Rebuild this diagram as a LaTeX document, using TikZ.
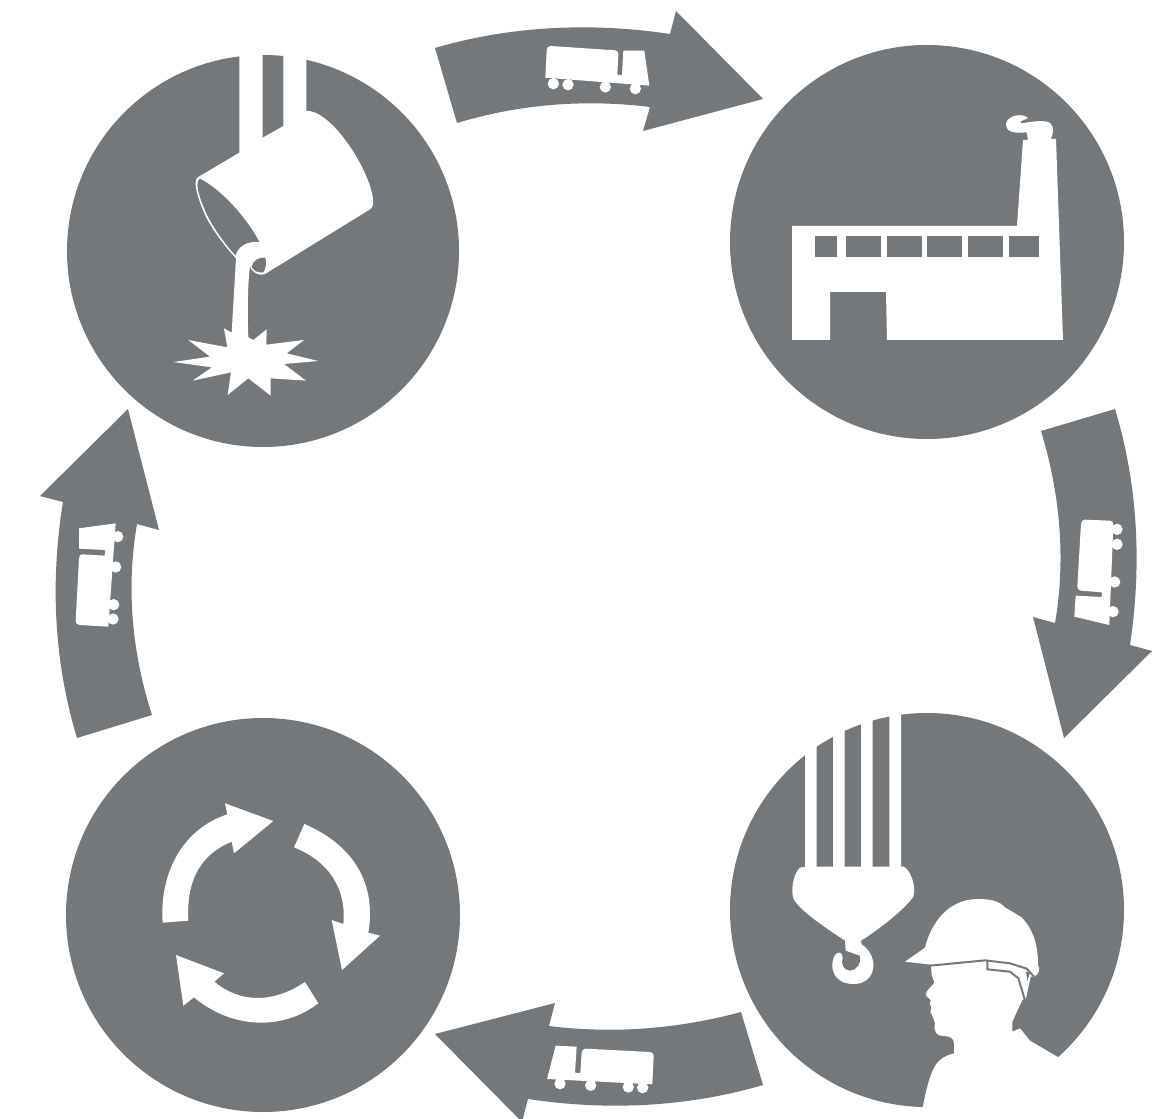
\documentclass[tikz,border=0pt]{standalone}
\definecolor{slate}{HTML}{75787B}
\tikzset{
  disc/.style={fill=slate,draw=none},
  flow/.style={fill=slate,draw=none},
  cut/.style={fill=white,draw=none},
  hole/.style={fill=slate,draw=none},
  strap/.style={draw=slate,line width=1.5pt,line join=miter},
  zoomed/.style={x=0.25pt,y=-0.25pt}
}
\newcommand{\wheels}[8]{%
  \fill[white] (#1,#2) circle[radius=17*0.25pt] (#3,#4) circle[radius=17*0.25pt] (#5,#6) circle[radius=17*0.25pt] (#7,#8) circle[radius=17*0.25pt];}
\begin{document}
\begin{tikzpicture}[x=0.75pt,y=-0.75pt]
\useasboundingbox (0,0) rectangle (1163,1119);
% discs
\fill[disc] (263,251) circle[radius=147pt];
\fill[disc] (927,242) circle[radius=147.75pt];
\fill[disc] (263,915) circle[radius=147.75pt];
\fill[disc] (927,910) circle[radius=147.75pt];
% flow arrows
\fill[flow] (435,48) .. controls (510,26) and (590,22) .. (670,34) -- (676,11) -- (763,99) -- (643,131) -- (650,107) .. controls (585,99) and (520,104) .. (457,123) -- cycle;
\fill[flow] (1115,409) -- (1041,431) .. controls (1062,500) and (1065,565) .. (1055,623) -- (1033,617) -- (1064,738) -- (1152,651) -- (1130,645) .. controls (1142,565) and (1138,485) .. (1115,409) -- cycle;
\fill[flow] (763,1085) .. controls (688,1107) and (608,1111) .. (528,1099) -- (522,1122) -- (435,1034) -- (555,1003) -- (549,1026) .. controls (613,1034) and (678,1029) .. (741,1012) -- cycle;
\fill[flow] (77,738) -- (152,715) .. controls (130,647) and (127,582) .. (137,524) -- (159,530) -- (128,409) -- (40,496) -- (63,502) .. controls (50,582) and (54,662) .. (77,738) -- cycle;
% truck, top arrow
\begin{scope}[shift={(530,30)},zoomed]
\fill[cut] (46,143) -- (50,62) .. controls (51,52) and (55,48) .. (62,48) -- (256,61) .. controls (262,62) and (265,66) .. (265,72) -- (262,135) -- (276,135) -- (280,62) -- (343,62) -- (358,167) -- cycle;
\wheels{70}{161}{114}{164}{226}{171}{316}{176}
\end{scope}
% truck, right arrow
\begin{scope}[shift={(1060,505)},zoomed]
\fill[cut] (148,360) -- (43,335) -- (47,272) -- (125,276) -- (126,262) -- (62,257) .. controls (55,256) and (52,250) .. (52,244) -- (63,56) .. controls (64,48) and (68,44) .. (74,44) -- (150,47) .. controls (157,48) and (160,52) .. (160,58) -- cycle;
\wheels{171}{73}{171}{118}{164}{231}{159}{320}
\end{scope}
% truck, bottom arrow
\begin{scope}[shift={(535,1035)},zoomed]
\fill[cut] (36,132) -- (62,32) -- (125,35) -- (120,113) -- (136,114) -- (140,52) .. controls (141,45) and (145,41) .. (152,41) -- (345,51) .. controls (352,52) and (356,56) .. (356,63) -- (352,148) -- cycle;
\wheels{75}{146}{167}{151}{280}{156}{323}{158}
\end{scope}
% truck, left arrow
\begin{scope}[shift={(65,510)},zoomed]
\fill[cut] (42,55) -- (152,40) -- (130,350) -- (44,345) .. controls (36,344) and (32,340) .. (32,333) -- (42,145) .. controls (43,137) and (46,133) .. (52,133) -- (119,137) -- (120,120) -- (42,116) -- cycle;
\wheels{158}{80}{152}{171}{146}{284}{144}{327}
\end{scope}
% ladle
\begin{scope}[shift={(150,50)},zoomed]
\fill[cut] (268,-20) -- (268,308) -- (145,381) .. controls (130,388) and (135,425) .. (165,495) .. controls (190,545) and (230,595) .. (258,625) -- (245,848) -- (222,835) -- (232,892) -- (115,870) -- (180,920) -- (70,936) -- (186,952) -- (128,992) -- (243,967) -- (233,1035) -- (295,985) -- (362,1037) -- (362,985) -- (468,992) -- (402,942) -- (505,933) -- (410,910) -- (462,870) -- (349,884) -- (350,838) -- (310,870) -- (295,862) .. controls (292,780) and (293,700) .. (300,650) .. controls (305,665) and (325,680) .. (345,672) -- (660,478) .. controls (672,470) and (672,455) .. (665,425) .. controls (640,330) and (540,182) .. (469,182) -- (469,-20) -- (400,-20) -- (400,228) -- (338,263) -- (338,-20) -- cycle;
\fill[hole] (150,386) .. controls (225,425) and (300,520) .. (328,576) .. controls (290,572) and (262,590) .. (257,617) .. controls (232,590) and (193,540) .. (170,492) .. controls (142,430) and (135,395) .. (150,386) -- cycle;
\fill[hole] (305,650) .. controls (308,632) and (328,620) .. (346,623) .. controls (350,640) and (348,655) .. (340,667) .. controls (325,670) and (310,662) .. (305,650) -- cycle;
\end{scope}
% factory
\fill[cut] (792,226) -- (1017,226) -- (1023,140) -- (1028,140) -- (1026.7,132.3) .. controls (1018,133) and (1006,134) .. (1006,124) .. controls (1006,118) and (1018,112) .. (1027,117) -- (1027.7,118.3) -- (1020,121.7) -- (1021.7,123.3) .. controls (1035,121) and (1045,120) .. (1050,123) .. controls (1055,127) and (1053,133) .. (1051,139) -- (1056,139) -- (1063,340) -- (887,340) -- (886,292) -- (830,292) -- (830,340) -- (792,340) -- cycle;
\foreach \xa/\xb in {815/837,846/881,887/922,927/962,968/1003,1009/1039}
  \fill[hole] (\xa,236) rectangle (\xb,257);
% recycling arrows
\begin{scope}[shift={(150,790)},zoomed]
\fill[cut] (225,40) -- (370,93) -- (252,190) -- (245,155) .. controls (160,190) and (108,260) .. (115,392) -- (38,398) .. controls (28,260) and (90,120) .. (232,73) -- cycle;
\fill[cut] (463,102) .. controls (610,165) and (680,280) .. (655,428) -- (690,437) -- (576,540) -- (545,390) -- (580,402) .. controls (590,300) and (540,215) .. (432,172) -- cycle;
\fill[cut] (465,576) -- (505,640) .. controls (400,720) and (250,720) .. (132,622) -- (100,647) -- (78,495) -- (222,550) -- (193,575) .. controls (270,640) and (370,640) .. (465,576) -- cycle;
\end{scope}
% hook and worker
\begin{scope}[shift={(770,700)},zoomed]
\fill[cut] (105,500) -- (90,503) .. controls (70,520) and (60,575) .. (72,600) .. controls (100,640) and (170,685) .. (225,722) -- (227,752) -- (270,767) .. controls (275,790) and (260,812) .. (240,812) .. controls (220,812) and (212,790) .. (218,775) .. controls (220,760) and (205,750) .. (195,765) .. controls (175,800) and (190,852) .. (250,852) .. controls (320,852) and (330,770) .. (275,733) -- (273,722) .. controls (340,680) and (410,620) .. (430,590) .. controls (440,560) and (420,505) .. (400,500) -- (393,500) -- (393,20) -- (358,20) -- (358,500) -- (308,500) -- (308,20) -- (273,20) -- (273,500) -- (224,500) -- (224,20) -- (189,20) -- (189,500) -- (140,500) -- (140,20) -- (105,20) -- cycle;
\fill[cut] (405,785) -- (465,743) .. controls (475,700) and (515,597) .. (625,597) .. controls (665,597) and (690,605) .. (705,622) -- (755,652) .. controls (795,695) and (804,745) .. (804,795) .. controls (812,805) and (806,825) .. (792,830) -- (782,830) -- (768,895) -- (757,900) -- (727,965) -- (727,995) -- (750,985) -- (780,1022) -- (865,1072) -- (930,1200) -- (600,1300) -- (458,1222) .. controls (465,1190) and (475,1130) .. (497,1095) .. controls (510,1075) and (530,1065) .. (552,1060) -- (552,1030) .. controls (552,1015) and (540,1008) .. (520,1008) .. controls (500,1008) and (490,995) .. (495,970) -- (490,955) -- (481,935) -- (484,925) -- (480,910) -- (482,900) -- (467,885) -- (470,875) -- (493,848) -- (485,825) -- (483,794) -- cycle;
\draw[strap] (480,797) -- (645,781) -- (720,790) -- (770,806) -- (792,830);
\draw[strap] (652,781) -- (652,808) -- (720,815) -- (745,835) -- (764,898);
\fill[hole] (768,815) -- (780,818) -- (772,842) -- cycle;
\end{scope}
\end{tikzpicture}
\end{document}
